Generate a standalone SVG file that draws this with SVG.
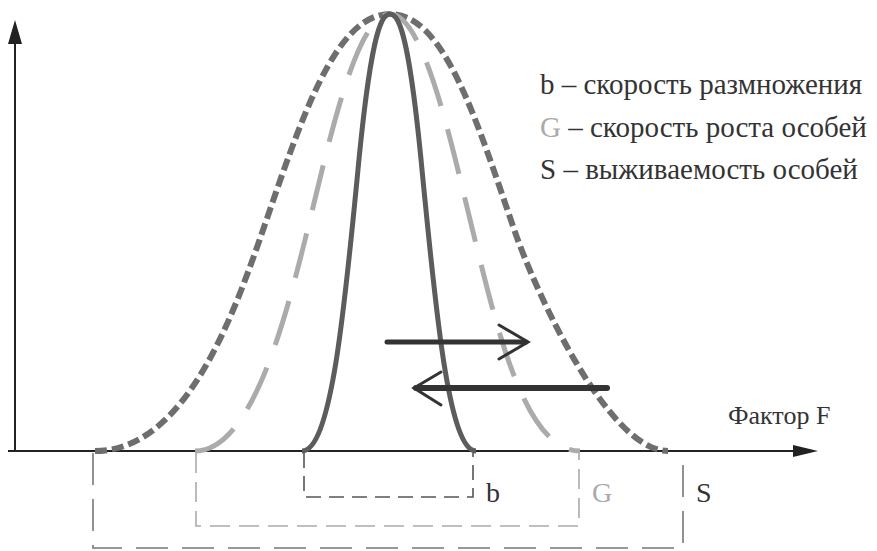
<svg xmlns="http://www.w3.org/2000/svg" width="877" height="551" viewBox="0 0 877 551">
<style>
text{font-family:"Liberation Serif","DejaVu Serif",serif;fill:#333}
.axis{stroke:#222;stroke-width:2;fill:none}
.head{fill:#222;stroke:none}
.curve{fill:none;stroke-linecap:butt}
.br{fill:none;stroke-width:1.6}
.arr{fill:none;stroke:#333;stroke-linecap:round}
</style>
<rect width="877" height="551" fill="#fff"/>
<g id="axes">
<line class="axis" x1="15" y1="452" x2="15" y2="38"/>
<polygon class="head" points="8,44 15,20 22,44"/>
<line class="axis" x1="8" y1="451" x2="800" y2="451"/>
<polygon class="head" points="793,445 818,451 793,457"/>
<text x="728" y="424" font-size="26">Фактор F</text>
</g>
<g id="curve-S">
<path class="curve" stroke="#6e6e6e" stroke-width="6" stroke-dasharray="12 5" d="M95,451 C185,451 233,317 263,230 C301,120 335,14 390,14 C445,14 477,122 515,232 C535,290 608,451 668,451"/>
</g>
<g id="curve-G">
<path class="curve" stroke="#ababab" stroke-width="5" stroke-dasharray="46 24" d="M195,451 C250,451 283,328 305,240 C327,152 355,14 390,14 C425,14 453,152 475,240 C497,328 525,451 580,451"/>
</g>
<g id="curve-b">
<path class="curve" stroke="#5c5c5c" stroke-width="5" d="M302,451 C332,451 345,300 357,180 C370,40 380,14 390,14 C400,14 410,40 423,180 C435,300 448,451 476,451"/>
</g>
<g id="bracket-b">
<path class="br" stroke="#555" stroke-dasharray="15 8" d="M304,453 V497 H473 V453"/>
<text x="486" y="502" font-size="28">b</text>
</g>
<g id="bracket-G">
<path class="br" stroke="#aaa" stroke-dasharray="20 9" d="M196,453 V526 H579 V453"/>
<text x="592" y="502" font-size="28" style="fill:#aaa">G</text>
</g>
<g id="bracket-S">
<path class="br" stroke="#777" stroke-dasharray="32 14" d="M93,453 V548 H683 V453"/>
<text x="696" y="502" font-size="28">S</text>
</g>
<g id="legend">
<text x="540" y="94" font-size="29">b – скорость размножения</text>
<text x="540" y="137" font-size="29"><tspan style="fill:#aaa">G</tspan> – скорость роста особей</text>
<text x="540" y="179" font-size="29">S – выживаемость особей</text>
</g>
<g id="connectors">
<line class="arr" stroke-width="5" x1="387" y1="342" x2="526" y2="342"/>
<polyline class="arr" stroke-width="3" points="499,325 528,342 499,359"/>
<line class="arr" stroke-width="6" x1="607" y1="388" x2="416" y2="388"/>
<polyline class="arr" stroke-width="3" points="441,372 414,388 441,405"/>
</g>
</svg>
